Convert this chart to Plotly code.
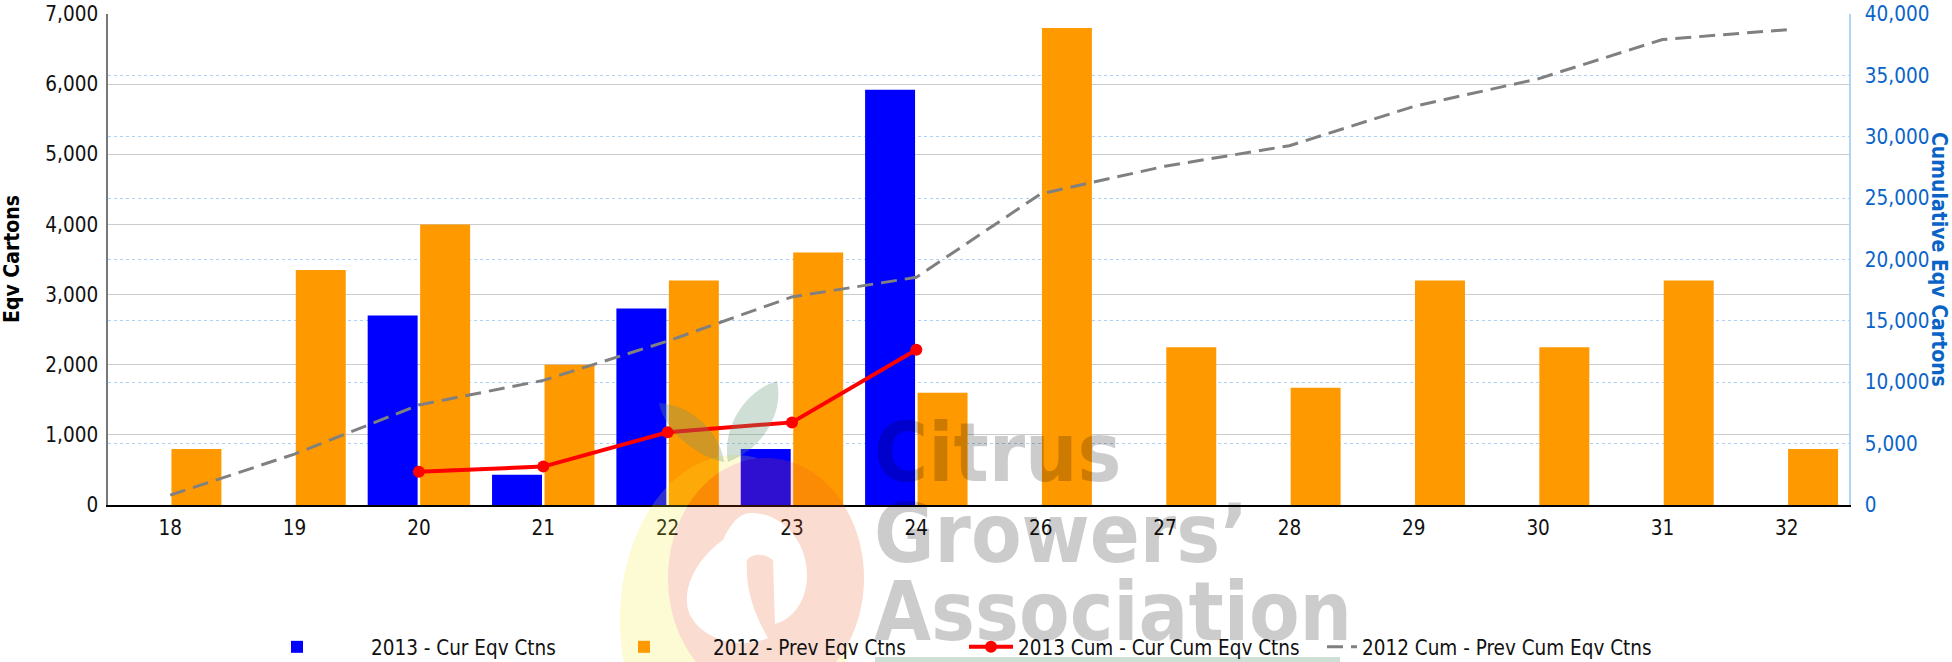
import numpy as np
import plotly.graph_objects as go

# ---------------- data ----------------
weeks = ['18', '19', '20', '21', '22', '23', '24', '26', '27', '28', '29', '30', '31', '32']
cur_2013 = [None, None, 2700, 430, 2800, 800, 5920, None, None, None, None, None, None, None]
prev_2012 = [800, 3350, 4000, 2000, 3200, 3600, 1600, 6800, 2250, 1670, 3200, 2250, 3200, 800]
cum_weeks_2013 = ['20', '21', '22', '23', '24']
cum_2013 = [2700, 3130, 5930, 6730, 12650]
cum_2012 = [800, 4150, 8150, 10150, 13350, 16950, 18550, 25350, 27600, 29270, 32470, 34720, 37920, 38720]

names = ['2013 - Cur Eqv Ctns', '2012 - Prev Eqv Ctns',
         '2013 Cum - Cur Cum Eqv Ctns', '2012 Cum - Prev Cum Eqv Ctns']
y_title = "Eqv Cartons"
y2_title = "Cumulative Eqv Cartons"

# ---------------- layout geometry ----------------
W, H = 1952, 662
L, R, T, B = 108, 103, 14, 157
PW, PH = W - L - R, H - T - B
BOT = T + PH


def px(X):
    return (X - L) / PW


def py(Y):
    return (BOT - Y) / PH


def pt(X, Y):
    return f"{px(X):.5f},{py(Y):.5f}"


FONT = "DejaVu Sans Condensed, Liberation Sans, Arial, sans-serif"
BLUE_AX = "#0a64c8"

fig = go.Figure()
fig.add_trace(go.Bar(x=weeks, y=cur_2013, name=names[0], marker_color="#0000ff",
                     marker_line_width=0, legend="legend"))
fig.add_trace(go.Bar(x=weeks, y=prev_2012, name=names[1], marker_color="#ff9900",
                     marker_line_width=0, legend="legend2"))
fig.add_trace(go.Scatter(x=weeks, y=cum_2012, name=names[3], yaxis="y2", mode="lines",
                         line=dict(color="#808080", width=3, dash="16px,8px"),
                         legend="legend4"))
fig.add_trace(go.Scatter(x=cum_weeks_2013, y=cum_2013, name=names[2], yaxis="y2",
                         mode="lines+markers",
                         line=dict(color="#ff0000", width=4),
                         marker=dict(color="#ff0000", size=12, symbol="circle"),
                         legend="legend3"))

# ---------------- watermark (logo) ----------------
shapes = []


def ellipse_pts(cx, cy, rx, ry, n=720):
    t = np.linspace(0, 2 * np.pi, n, endpoint=False)
    return cx + rx * np.cos(t), cy + ry * np.sin(t)


def run(mask):
    n = len(mask)
    start = None
    for i in range(n):
        if mask[i] and not mask[i - 1]:
            start = i
            break
    idx = []
    i = start
    while mask[i % n] and len(idx) < n:
        idx.append(i % n)
        i += 1
    return idx


ycx, ycy, yrx, yry = 735, 620, 115, 165
pcx, pcy, prx, pry = 766, 578, 98, 120
yx, yy = ellipse_pts(ycx, ycy, yrx, yry)
px_, py_ = ellipse_pts(pcx, pcy, prx, pry)
out_pink = ((yx - pcx) / prx) ** 2 + ((yy - pcy) / pry) ** 2 > 1
in_yel = ((px_ - ycx) / yrx) ** 2 + ((py_ - ycy) / yry) ** 2 < 1
iy = run(out_pink)
ip = run(in_yel)[::-1]
pts = [(yx[i], yy[i]) for i in iy] + [(px_[i], py_[i]) for i in ip]
ypath = "M" + " L".join(pt(a, b) for a, b in pts) + " Z"
shapes.append(dict(type="path", path=ypath, xref="paper", yref="paper", layer="above",
                   fillcolor="rgba(245,235,40,0.2)", line=dict(width=0)))

pp = "M" + " L".join(pt(a, b) for a, b in zip(px_, py_)) + " Z"
nine = [("M", [(750, 513)]),
        ("C", [(782, 512), (808, 542), (807, 577)]),
        ("C", [(806, 600), (795, 618), (775, 624)]),
        ("L", [(773, 560)]),
        ("C", [(765, 553), (752, 553), (747, 560)]),
        ("C", [(745, 590), (755, 615), (768, 638)]),
        ("C", [(740, 650), (703, 640), (690, 615)]),
        ("C", [(680, 592), (695, 560), (723, 540)]),
        ("C", [(730, 525), (738, 514), (750, 513)])]
np_ = " ".join(c + " " + " ".join(pt(a, b) for a, b in ps) for c, ps in nine) + " Z"
shapes.append(dict(type="path", path=pp + " " + np_, xref="paper", yref="paper",
                   layer="above", fillrule="evenodd",
                   fillcolor="rgba(235,78,25,0.2)", line=dict(width=0)))

leaf1 = [("M", [(724, 462)]), ("C", [(700, 458), (664, 432), (659, 403)]),
         ("C", [(692, 405), (720, 432), (724, 462)])]
leaf2 = [("M", [(728, 462)]), ("C", [(722, 430), (742, 392), (777, 381)]),
         ("C", [(784, 412), (764, 448), (728, 462)])]
for lf in (leaf1, leaf2):
    path = " ".join(c + " " + " ".join(pt(a, b) for a, b in ps) for c, ps in lf) + " Z"
    shapes.append(dict(type="path", path=path, xref="paper", yref="paper", layer="above",
                       fillcolor="rgba(100,150,120,0.3)", line=dict(width=0)))
shapes.append(dict(type="rect", xref="paper", yref="paper", layer="above",
                   x0=px(875), x1=px(1340), y0=py(662), y1=py(657),
                   fillcolor="rgba(100,150,120,0.3)", line=dict(width=0)))

WM_SIZE = 82
WM_FONT = dict(family="Liberation Sans Narrow, DejaVu Sans Condensed, Arial Narrow, sans-serif",
               size=WM_SIZE, color="rgba(0,0,0,0.2)", weight="bold")
annotations = []
for word, base in (("Citrus", 482), ("Growers’", 563), ("Association", 641)):
    annotations.append(dict(text=word, xref="paper", yref="paper", x=px(872),
                            y=py(base - 0.355 * WM_SIZE),
                            xanchor="left", yanchor="middle", showarrow=False, font=WM_FONT))

# axis titles
annotations.append(dict(text=y_title, xref="paper", yref="paper", x=px(12), y=py(259),
                        xanchor="center", yanchor="middle", textangle=-90, showarrow=False,
                        font=dict(family=FONT, size=21, color="#000", weight="bold")))
annotations.append(dict(text=y2_title, xref="paper", yref="paper", x=px(1939), y=py(259),
                        xanchor="center", yanchor="middle", textangle=90, showarrow=False,
                        font=dict(family=FONT, size=21, color=BLUE_AX, weight="bold")))

# ---------------- legends ----------------
LEG_Y = 1 - 647 / H
leg_common = dict(orientation="h", yanchor="middle", y=LEG_Y, xanchor="left",
                  xref="container", yref="container",
                  bgcolor="rgba(0,0,0,0)", font=dict(family=FONT, size=20.5, color="#111"),
                  traceorder="normal")

fig.update_layout(
    width=W, height=H,
    margin=dict(l=L, r=R, t=T, b=B, pad=0, autoexpand=False),
    paper_bgcolor="white", plot_bgcolor="white",
    barmode="group", bargap=0.156, bargroupgap=0.048,
    showlegend=True,
    legend=dict(leg_common, x=223 / W, itemwidth=138),
    legend2=dict(leg_common, x=575 / W, itemwidth=128),
    legend3=dict(leg_common, x=964 / W, itemwidth=44),
    legend4=dict(leg_common, x=1322 / W, itemwidth=30),
    xaxis=dict(type="category", categoryorder="array", categoryarray=weeks,
               showgrid=False, showline=True, linecolor="#000", linewidth=1.5,
               ticks="", ticklabelstandoff=4, automargin=False,
               tickfont=dict(family=FONT, size=20.5, color="#111"),
               zeroline=False),
    yaxis=dict(range=[0, 7000], dtick=1000, tickformat=",",
               showgrid=True, gridcolor="#cccccc", gridwidth=1,
               showline=True, linecolor="#777", linewidth=1.5,
               ticks="", zeroline=False, ticklabelstandoff=4, automargin=False,
               tickfont=dict(family=FONT, size=20.5, color="#111")),
    yaxis2=dict(range=[0, 40000], dtick=5000, tickformat=",", overlaying="y", side="right",
                showgrid=True, gridcolor="#a9d1fa", gridwidth=1, griddash="dot",
                showline=True, linecolor="#b0d4f4", linewidth=1.5,
                ticks="", zeroline=False, ticklabelstandoff=10, automargin=False,
                tickfont=dict(family=FONT, size=20.5, color=BLUE_AX)),
    shapes=shapes,
    annotations=annotations,
)

fig.write_html("out.html", config={"displayModeBar": False},
               post_script="document.body.style.margin='0px';")
